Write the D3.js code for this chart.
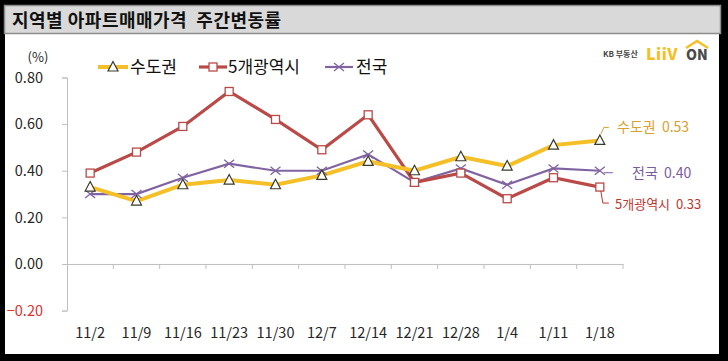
<!DOCTYPE html>
<html><head><meta charset="utf-8">
<script src="https://cdn.jsdelivr.net/npm/d3@7"></script>
<style>
html,body{margin:0;padding:0;background:#000;}
svg{display:block;}
text{font-family:"Noto Sans CJK KR","Noto Sans",sans-serif;}
</style></head>
<body>
<svg id="c" width="728" height="361"></svg>
<script>
const categories = ["11/2","11/9","11/16","11/23","11/30","12/7","12/14","12/21","12/28","1/4","1/11","1/18"];
const sudogwon = [0.33,0.27,0.34,0.36,0.34,0.38,0.44,0.40,0.46,0.42,0.51,0.53];
const metro5 = [0.39,0.48,0.59,0.74,0.62,0.49,0.64,0.35,0.39,0.28,0.37,0.33];
const national = [0.30,0.30,0.37,0.43,0.40,0.40,0.47,0.35,0.41,0.34,0.41,0.40];
const seriesNames = ["수도권","5개광역시","전국"];
const yTicks = [-0.20,0.00,0.20,0.40,0.60,0.80];
const title = "지역별 아파트매매가격\u00a0\u00a0주간변동률";
const NB = "\u00a0\u00a0";

const svg = d3.select("#c");
// frame
svg.append("rect").attr("x",0).attr("y",0).attr("width",728).attr("height",361).attr("fill","#000");
svg.append("rect").attr("x",5).attr("y",34).attr("width",714).attr("height",320).attr("fill","#fff");
svg.append("rect").attr("x",4.5).attr("y",5.5).attr("width",716).attr("height",28).attr("fill","#d9d9d9").attr("stroke","#8c8c8c").attr("stroke-width",1.5);
svg.append("text").attr("x",12).attr("y",26.5).attr("font-size",18).attr("font-weight","bold").attr("letter-spacing",0.5).attr("fill","#111").text(title);

const x = d3.scaleBand().domain(categories).range([67,623]);
const y = d3.scaleLinear().domain([-0.2,0.8]).range([310.6,77.5]);

// y axis
const yAxis = d3.axisLeft(y).tickValues(yTicks).tickFormat(d3.format(".2f")).tickSize(5).tickPadding(19);
const gy = svg.append("g").attr("transform","translate(67,0)").call(yAxis);
gy.select(".domain").attr("stroke","#bfbfbf");
gy.selectAll(".tick line").attr("stroke","#bfbfbf");
gy.selectAll(".tick text").attr("font-size",14.5).attr("fill",d=>d<0?"#e0302e":"#262626").attr("font-family","Noto Sans CJK KR");
svg.append("text").attr("x",38).attr("y",62).attr("text-anchor","middle").attr("font-size",13).attr("fill","#262626").text("(%)");

// x axis at zero
const xAxis = d3.axisBottom(x).tickSize(0).tickPadding(0);
const gx = svg.append("g").attr("transform",`translate(0,${y(0)})`).call(xAxis);
gx.select(".domain").attr("stroke","#bfbfbf");
gx.selectAll(".tick text").remove();
// boundary ticks
const bounds = categories.map(c=>x(c)).concat([x(categories[categories.length-1])+x.bandwidth()]).slice(1);
svg.append("g").selectAll("line").data(bounds).join("line")
  .attr("x1",d=>d).attr("x2",d=>d).attr("y1",y(0)).attr("y2",y(0)+5).attr("stroke","#bfbfbf");
svg.append("g").selectAll("text").data(categories).join("text")
  .attr("x",d=>x(d)+x.bandwidth()/2).attr("y",338).attr("text-anchor","middle")
  .attr("font-size",14.5).attr("fill","#262626").text(d=>d);

const cx = d => x(d)+x.bandwidth()/2;
const line = d3.line().x((d,i)=>cx(categories[i])).y(d=>y(d));

const colors = {s:"#f5bf27", m:"#b94a48", n:"#8064a2"};
svg.append("path").datum(national).attr("d",line).attr("fill","none").attr("stroke",colors.n).attr("stroke-width",2.2);
svg.append("path").datum(metro5).attr("d",line).attr("fill","none").attr("stroke",colors.m).attr("stroke-width",3.2);
svg.append("path").datum(sudogwon).attr("d",line).attr("fill","none").attr("stroke",colors.s).attr("stroke-width",4);

function xmark(g,px,py,col){
  g.append("path").attr("d",`M${px-5},${py-4}L${px+5},${py+4}M${px-5},${py+4}L${px+5},${py-4}`).attr("stroke",col).attr("stroke-width",1.3).attr("fill","none");
}
function sq(g,px,py){
  g.append("rect").attr("x",px-4).attr("y",py-4).attr("width",8).attr("height",8).attr("fill","#fff").attr("stroke","#b94a48").attr("stroke-width",1.3);
}
function tri(g,px,py){
  g.append("path").attr("d",`M${px},${py-5.5}L${px+5},${py+4}L${px-5},${py+4}Z`).attr("fill","#fff").attr("stroke","#3a3a2a").attr("stroke-width",1.2);
}
const mk = svg.append("g");
national.forEach((v,i)=>xmark(mk,cx(categories[i]),y(v),colors.n));
metro5.forEach((v,i)=>sq(mk,cx(categories[i]),y(v)));
sudogwon.forEach((v,i)=>tri(mk,cx(categories[i]),y(v)));

// legend
const lg = svg.append("g");
const ly = 67;
lg.append("line").attr("x1",98).attr("x2",128).attr("y1",ly).attr("y2",ly).attr("stroke",colors.s).attr("stroke-width",4);
tri(lg,113,ly);
lg.append("text").attr("x",130).attr("y",ly+6).attr("font-size",17).attr("fill","#111").text(seriesNames[0]);
lg.append("line").attr("x1",199).attr("x2",227).attr("y1",ly).attr("y2",ly).attr("stroke",colors.m).attr("stroke-width",3.2);
sq(lg,213,ly);
lg.append("text").attr("x",228).attr("y",ly+6).attr("font-size",17).attr("fill","#111").text(seriesNames[1]);
lg.append("line").attr("x1",325).attr("x2",353).attr("y1",ly).attr("y2",ly).attr("stroke",colors.n).attr("stroke-width",2.2);
xmark(lg,339,ly,colors.n);
lg.append("text").attr("x",356).attr("y",ly+6).attr("font-size",17).attr("fill","#111").text(seriesNames[2]);

// end labels
const last = categories.length-1;
const lx = cx(categories[last]);
const el = svg.append("g");
const ys = y(sudogwon[last]), ym = y(metro5[last]), yn = y(national[last]);
el.append("path").attr("d",`M${lx+1},${ys-6}L${lx+4},${ys-13}L${lx+9},${ys-13}`).attr("fill","none").attr("stroke","#d9a030").attr("stroke-width",1);
el.append("text").attr("x",617).attr("y",ys-8).attr("font-size",14).attr("fill","#d9a030").text(`${seriesNames[0]}${NB}${sudogwon[last].toFixed(2)}`);
el.append("path").attr("d",`M${lx+4},${yn+2}L${lx+13},${yn+2}`).attr("fill","none").attr("stroke","#7a5c9e").attr("stroke-width",1);
el.append("text").attr("x",632).attr("y",yn+7).attr("font-size",14).attr("fill","#7a5c9e").text(`${seriesNames[2]}${NB}${national[last].toFixed(2)}`);
el.append("path").attr("d",`M${lx+1},${ym+4}L${lx+3},${ym+16}L${lx+9},${ym+16}`).attr("fill","none").attr("stroke","#c0352f").attr("stroke-width",1);
el.append("text").attr("x",615).attr("y",ym+22).attr("font-size",13).attr("fill","#c0352f").text(`${seriesNames[1]}${NB}${metro5[last].toFixed(2)}`);

// logo
const lo = svg.append("g");
lo.append("text").attr("x",603).attr("y",57).attr("font-size",8).attr("fill","#444").attr("font-weight","bold").text("KB 부동산");
lo.append("text").attr("x",646).attr("y",60).attr("font-size",16).attr("font-weight","900").attr("fill","#f5bf27").attr("letter-spacing",0.5).text("LiiV");
lo.append("text").attr("x",686).attr("y",60).attr("font-size",14).attr("font-weight","900").attr("fill","#4a4a4a").text("ON");
lo.append("path").attr("d","M686,48L697,41L708,48").attr("fill","none").attr("stroke","#f5bf27").attr("stroke-width",2.5);
</script>
</body></html>
